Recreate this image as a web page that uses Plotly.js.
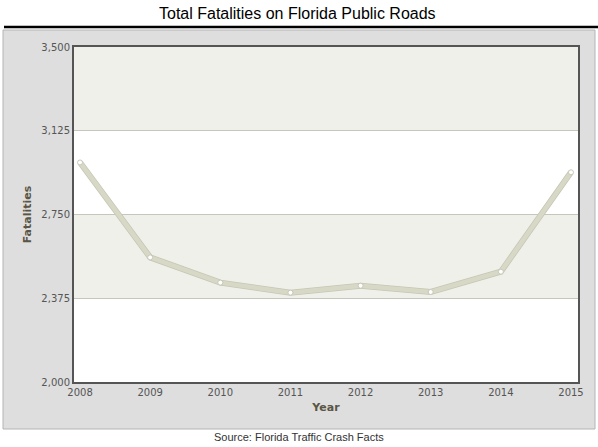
<!DOCTYPE html>
<html>
<head>
<meta charset="utf-8">
<script src="https://cdn.plot.ly/plotly-3.0.1.min.js"></script>
<style>
  html, body { margin: 0; padding: 0; background: #fff; }
  #chart { width: 598px; height: 447px; }
</style>
</head>
<body>
<div id="chart"></div>
<script>
// Florida public roads, total fatalities per year
const years = [2008, 2009, 2010, 2011, 2012, 2013, 2014, 2015];
const fatalities = [2983, 2558, 2445, 2400, 2431, 2403, 2494, 2939];
const yTicks = [2000, 2375, 2750, 3125, 3500];

const lineColor = '#d8d8c6';
const bandColor = '#f0f0eb';
const labelColor = '#5a5545';

// alternating bands between the y ticks
const bands = [];
for (let i = 0; i < yTicks.length - 1; i++) {
    bands.push({
        type: 'rect', layer: 'below',
        xref: 'x domain', yref: 'y',
        x0: 0, x1: 1, y0: yTicks[i], y1: yTicks[i + 1],
        fillcolor: i % 2 === 0 ? '#ffffff' : bandColor,
        line: { width: 0 }
    });
}

const shapes = [
    // grey panel behind the plot
    {
        type: 'rect', layer: 'below', xref: 'paper', yref: 'paper',
        x0: -71 / 504, x1: 521 / 504, y0: -47 / 335, y1: 352 / 335,
        fillcolor: '#dedede', line: { color: '#b4b4b4', width: 1 }
    },
    // black rule under the title
    {
        type: 'line', xref: 'paper', yref: 'paper',
        x0: -70 / 504, x1: 524 / 504, y0: 355 / 335, y1: 355 / 335,
        line: { color: '#000', width: 2.5 }
    }
].concat(bands);

const data = [
    {
        x: years, y: fatalities,
        type: 'scatter', mode: 'lines',
        line: { color: '#c6c6b4', width: 6 },
        hoverinfo: 'skip', showlegend: false
    },
    {
        x: years, y: fatalities,
        type: 'scatter', mode: 'lines+markers',
        line: { color: lineColor, width: 4.5 },
        marker: { color: '#ffffff', size: 5, line: { color: '#c8c8b8', width: 1 } },
        showlegend: false
    }
];

const layout = {
    width: 598, height: 447,
    margin: { l: 74, r: 20, t: 47, b: 65 },
    paper_bgcolor: '#ffffff',
    plot_bgcolor: 'rgba(0,0,0,0)',
    font: { family: 'DejaVu Sans, Verdana, sans-serif', size: 10, color: '#555' },
    xaxis: {
        range: [2007.914, 2015.1],
        tickvals: years,
        ticktext: years.map(String),
        ticks: '', showgrid: false, zeroline: false,
        showline: true, mirror: true, linecolor: '#555', linewidth: 2,
        tickfont: { size: 10, color: '#555' },
        title: { text: '<b>Year</b>', standoff: 6, font: { size: 11, color: labelColor } }
    },
    yaxis: {
        range: [2000, 3500],
        tickvals: yTicks,
        tickformat: ',',
        ticks: '', showgrid: true, gridcolor: '#c6c6bc', gridwidth: 1,
        zeroline: false,
        showline: true, mirror: true, linecolor: '#555', linewidth: 2,
        tickfont: { size: 10, color: '#555' },
        title: { text: '<b>Fatalities</b>', standoff: 8, font: { size: 11, color: labelColor } }
    },
    shapes: shapes,
    annotations: [
        {
            text: 'Total Fatalities on Florida Public Roads',
            xref: 'paper', yref: 'paper', x: 223 / 504, y: 368 / 335,
            xanchor: 'center', yanchor: 'middle', showarrow: false,
            font: { family: 'Liberation Sans, Arial, sans-serif', size: 16, color: '#000' }
        },
        {
            text: 'Source: Florida Traffic Crash Facts',
            xref: 'paper', yref: 'paper', x: 225 / 504, y: -55 / 335,
            xanchor: 'center', yanchor: 'middle', showarrow: false,
            font: { family: 'Liberation Sans, Arial, sans-serif', size: 11, color: '#333' }
        }
    ]
};

Plotly.newPlot('chart', data, layout, { displayModeBar: false, staticPlot: true });
</script>
</body>
</html>
